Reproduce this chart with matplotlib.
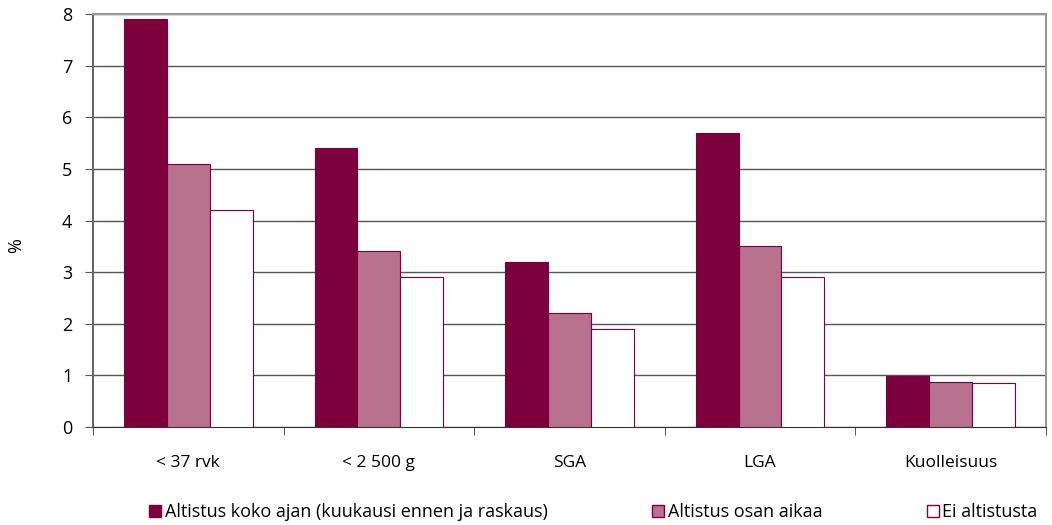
import matplotlib.pyplot as plt
import numpy as np
from matplotlib.patches import Patch

plt.rcParams['font.family'] = ['Open Sans', 'DejaVu Sans']

categories = ['< 37 rvk', '< 2 500 g', 'SGA', 'LGA', 'Kuolleisuus']
koko_ajan = [7.9, 5.4, 3.2, 5.7, 0.98]
osan_aikaa = [5.1, 3.4, 2.2, 3.5, 0.87]
ei_altistusta = [4.2, 2.9, 1.9, 2.9, 0.85]
series_names = ['Altistus koko ajan (kuukausi ennen ja raskaus)',
                'Altistus osan aikaa', 'Ei altistusta']

dark = '#7b003c'
mid = '#b8728e'

fig = plt.figure(figsize=(10.52, 5.25), dpi=100)
ax = fig.add_axes([0.0884, 0.1867, 0.9058, 0.7866])

x = np.arange(len(categories))
w = 0.225
ax.bar(x - w, koko_ajan, w, color=dark, edgecolor=dark, linewidth=0.8, zorder=3)
ax.bar(x, osan_aikaa, w, color=mid, edgecolor=dark, linewidth=0.8, zorder=3)
ax.bar(x + w, ei_altistusta, w, color='white', edgecolor=dark, linewidth=0.8, zorder=3)

ax.set_xlim(-0.5, len(categories) - 0.5)
ax.set_ylim(0, 8)
ax.set_yticks(range(0, 9))
ax.yaxis.grid(True, color='#555555', linewidth=1)
ax.set_axisbelow(True)

ax.set_xticks(x)
ax.set_xticklabels(categories, fontsize=12.5)
ax.tick_params(axis='x', length=0, pad=20)
ax.set_xticks(np.arange(len(categories) + 1) - 0.5, minor=True)
ax.tick_params(axis='x', which='minor', length=6, color='#333333')
ax.tick_params(axis='y', labelsize=13, length=6, color='#555555', pad=9)

for side in ['top', 'right', 'left']:
    ax.spines[side].set_color('#999999')
    ax.spines[side].set_linewidth(1.5)
ax.spines['left'].set_color('#666666')
ax.spines['bottom'].set_color('#333333')

# y axis unit label, placed on the figure so it stays inside the canvas
fig.text(0.015, 0.533, '%', rotation=90, ha='center', va='center', fontsize=13)

handles = [Patch(facecolor=dark, edgecolor=dark),
           Patch(facecolor=mid, edgecolor=dark),
           Patch(facecolor='white', edgecolor=dark)]
fig.legend(handles, series_names, loc='center', bbox_to_anchor=(0.564, 0.025),
           ncol=3, frameon=False, fontsize=13, handlelength=0.65,
           handleheight=0.65, handletextpad=0.2, columnspacing=5.8)

fig.savefig('out.png', dpi=100)
